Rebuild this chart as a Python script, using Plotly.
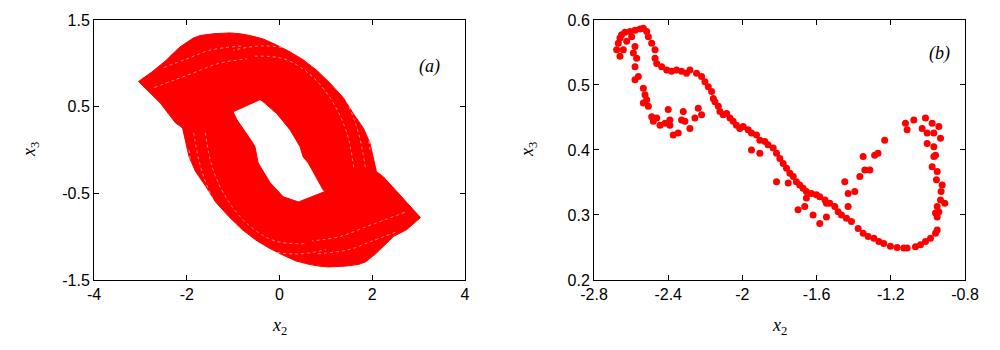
import plotly.graph_objects as go

# panel (a): outline of the attractor band
outer_x = [-3.04, -2.75, -2.43, -2.36, -2.14, -1.86, -1.71, -1.43, -1.07, -0.85, -0.64, -0.35, -0.06, 0.23, 0.51,
           0.80, 1.09, 1.38, 1.59, 1.81, 1.95, 2.09, 2.24, 3.04, 2.74, 2.45, 2.38, 2.09, 1.86, 1.71, 1.43, 1.07,
           0.85, 0.64, 0.35, 0.06, -0.23, -0.51, -0.80, -1.09, -1.38, -1.59, -1.81, -1.95, -2.09, -2.13, -2.24,
           -2.57, -3.04]
outer_y = [0.79, 0.90, 1.04, 1.08, 1.19, 1.29, 1.32, 1.34, 1.35, 1.34, 1.32, 1.28, 1.21, 1.13, 1.04,
           0.92, 0.77, 0.60, 0.42, 0.25, 0.08, -0.25, -0.31, -0.78, -0.92, -1.0, -1.04, -1.19, -1.29, -1.32,
           -1.34, -1.35, -1.34, -1.32, -1.28, -1.21, -1.13, -1.04, -0.92, -0.77, -0.60, -0.42, -0.25, -0.08,
           0.25, 0.27, 0.31, 0.54, 0.79]
hole_x = [-1.0, -0.42, -0.36, -0.06, 0.23, 0.44, 0.51, 0.62, 0.94, 0.98, 0.41, 0.08, -0.2, -0.46, -0.53, -0.6, -0.92, -1.0]
hole_y = [0.44, 0.58, 0.56, 0.42, 0.23, 0.04, -0.08, -0.15, -0.46, -0.48, -0.60, -0.54, -0.38, -0.15, 0.04, 0.10, 0.35, 0.44]

# light streaks inside the band
streaks = [
    ([-1.85, -1.7, -1.4, -0.9, -0.3, 0.4, 1.0], [0.2, -0.2, -0.6, -0.95, -1.15, -1.2, -1.15]),
    ([-1.6, -1.45, -1.15, -0.7, -0.1, 0.6], [0.2, -0.2, -0.55, -0.85, -1.05, -1.08]),
    ([-1.95, -1.85, -1.6, -1.2, -0.6, 0.1], [0.0, -0.35, -0.7, -1.0, -1.2, -1.28]),
    ([1.85, 1.7, 1.4, 0.9, 0.3, -0.4, -1.0], [-0.2, 0.2, 0.6, 0.95, 1.15, 1.2, 1.15]),
    ([1.6, 1.45, 1.15, 0.7, 0.1, -0.6], [-0.2, 0.2, 0.55, 0.85, 1.05, 1.08]),
    ([1.95, 1.85, 1.6, 1.2, 0.6, -0.1], [0.0, 0.35, 0.7, 1.0, 1.2, 1.28]),
    ([-2.7, -2.3, -1.8, -1.3, -0.7], [0.72, 0.8, 0.9, 1.0, 1.05]),
    ([-2.5, -2.0, -1.5, -0.8], [0.95, 1.05, 1.15, 1.2]),
    ([2.7, 2.3, 1.8, 1.3, 0.7], [-0.72, -0.8, -0.9, -1.0, -1.05]),
    ([2.5, 2.0, 1.5, 0.8], [-0.95, -1.05, -1.15, -1.2]),
]

# panel (b): section points
sec_x = [-2.678, -2.669, -2.660, -2.651, -2.633, -2.606, -2.579, -2.552, -2.534, -2.516, -2.507, -2.660, -2.642,
         -2.624, -2.597, -2.579, -2.588, -2.570, -2.489, -2.471, -2.471, -2.462, -2.435, -2.408, -2.382, -2.355,
         -2.328, -2.301, -2.283, -2.247, -2.220, -2.202, -2.184, -2.166, -2.157, -2.148, -2.130, -2.121, -2.103,
         -2.085, -2.067, -2.050, -2.032, -2.014, -1.996, -1.969, -1.951, -1.924, -1.906, -1.879, -1.862, -1.834,
         -1.816, -1.798, -1.780, -1.762, -1.744, -1.726, -1.709, -1.691, -1.673, -1.655, -1.628, -1.601, -1.583,
         -1.555, -1.529, -1.502, -1.484, -1.466, -1.439, -1.412, -1.376, -1.349, -1.322, -1.291, -1.264, -1.238,
         -1.202, -1.166, -1.130, -1.112, -1.067, -1.040, -1.013, -0.986, -0.959, -0.950,
         -0.950, -0.941, -0.932, -0.929, -0.923, -0.954, -0.950, -0.977, -0.968, -0.959, -0.968, -0.932, -0.968,
         -0.941, -0.977, -1.004, -1.004, -1.013, -1.031, -1.076, -1.121, -1.112, -0.909, -0.950, -0.959,
         -1.233, -1.269, -1.287, -1.313, -1.340, -1.367, -1.349, -1.394, -1.430, -1.448, -1.430, -1.547, -1.547,
         -1.583, -1.619, -1.664, -1.700, -1.655, -1.816, -1.951, -1.906, -1.753,
         -2.579, -2.561, -2.579, -2.534, -2.525, -2.516, -2.534, -2.507, -2.489, -2.462, -2.480, -2.444, -2.417,
         -2.391, -2.400, -2.391, -2.373, -2.346, -2.319, -2.328, -2.310, -2.283, -2.256, -2.238, -2.220]
sec_y = [0.554, 0.564, 0.572, 0.577, 0.581, 0.582, 0.584, 0.586, 0.587, 0.582, 0.574, 0.544, 0.554,
         0.567, 0.574, 0.559, 0.549, 0.541, 0.564, 0.554, 0.541, 0.533, 0.528, 0.523, 0.521, 0.523,
         0.521, 0.518, 0.523, 0.518, 0.513, 0.505, 0.497, 0.490, 0.479, 0.474, 0.467, 0.459, 0.454,
         0.456, 0.449, 0.444, 0.438, 0.433, 0.436, 0.431, 0.426, 0.423, 0.415, 0.413, 0.408, 0.403,
         0.395, 0.387, 0.379, 0.372, 0.364, 0.359, 0.351, 0.346, 0.341, 0.336, 0.333, 0.331, 0.328,
         0.323, 0.318, 0.313, 0.305, 0.300, 0.295, 0.290, 0.279, 0.272, 0.267, 0.264, 0.259, 0.256,
         0.252, 0.250, 0.249, 0.249, 0.251, 0.254, 0.259, 0.264, 0.272, 0.277,
         0.297, 0.305, 0.323, 0.336, 0.346, 0.354, 0.367, 0.374, 0.390, 0.392, 0.405, 0.418, 0.426,
         0.436, 0.441, 0.426, 0.410, 0.449, 0.433, 0.446, 0.441, 0.431, 0.318, 0.313, 0.303,
         0.415, 0.395, 0.392, 0.369, 0.369, 0.359, 0.390, 0.336, 0.333, 0.351, 0.313, 0.318, 0.297,
         0.287, 0.300, 0.313, 0.308, 0.326, 0.351, 0.400, 0.395, 0.349,
         0.528, 0.513, 0.508, 0.495, 0.485, 0.477, 0.472, 0.467, 0.451, 0.449, 0.444, 0.438, 0.441,
         0.446, 0.462, 0.438, 0.423, 0.426, 0.459, 0.446, 0.444, 0.433, 0.449, 0.464, 0.454]

xa_ticks = [-4, -2, 0, 2, 4]
ya_ticks = [-1.5, -0.5, 0.5, 1.5]
xb_ticks = [-2.8, -2.4, -2, -1.6, -1.2, -0.8]
yb_ticks = [0.2, 0.3, 0.4, 0.5, 0.6]

red = "#ff0000"
fig = go.Figure()

fig.add_trace(go.Scatter(x=outer_x, y=outer_y, mode="lines", fill="toself", fillcolor=red,
                         line=dict(color=red, width=1), xaxis="x", yaxis="y", hoverinfo="skip"))
for sx, sy in streaks:
    fig.add_trace(go.Scatter(x=sx, y=sy, mode="lines",
                             line=dict(color="rgba(255,255,255,0.6)", width=0.9, dash="dot", shape="spline"),
                             xaxis="x", yaxis="y", hoverinfo="skip"))
fig.add_trace(go.Scatter(x=hole_x, y=hole_y, mode="lines", fill="toself", fillcolor="white",
                         line=dict(color=red, width=1), xaxis="x", yaxis="y", hoverinfo="skip"))

fig.add_trace(go.Scatter(x=sec_x, y=sec_y, mode="markers", marker=dict(color=red, size=7),
                         xaxis="x2", yaxis="y2"))

tickfont = dict(family="Liberation Sans, Arial", size=16, color="black")
axis_common = dict(showgrid=False, zeroline=False, showline=True, linecolor="black", linewidth=1,
                   mirror="allticks", ticks="inside", ticklen=5, tickcolor="black", tickfont=tickfont,
                   automargin=False)


def labels(vals):
    return [("%g" % v) for v in vals]


# page body adds ~8px offset, domains compensate for it
fig.update_layout(
    width=1000, height=350, margin=dict(l=0, r=0, t=0, b=0),
    paper_bgcolor="white", plot_bgcolor="white", showlegend=False,
    xaxis=dict(domain=[0.086, 0.457], range=[-4, 4], tickvals=xa_ticks, ticktext=labels(xa_ticks),
               anchor="y", **axis_common),
    yaxis=dict(domain=[0.223, 0.966], range=[-1.5, 1.5], tickvals=ya_ticks, ticktext=labels(ya_ticks),
               anchor="x", **axis_common),
    xaxis2=dict(domain=[0.586, 0.957], range=[-2.8, -0.8], tickvals=xb_ticks, ticktext=labels(xb_ticks),
                anchor="y2", **axis_common),
    yaxis2=dict(domain=[0.223, 0.966], range=[0.2, 0.6], tickvals=yb_ticks, ticktext=labels(yb_ticks),
                anchor="x2", **axis_common),
)

serif = dict(family="Liberation Serif, DejaVu Serif", size=18, color="black")
ann = dict(showarrow=False, font=serif, xanchor="center", yanchor="middle")
fig.add_annotation(text="<i>(a)</i>", x=3.24, y=0.96, xref="x", yref="y", **ann)
fig.add_annotation(text="<i>(b)</i>", x=-0.94, y=0.549, xref="x2", yref="y2", **ann)
fig.add_annotation(text="<i>x</i><sub>2</sub>", x=0.2715, y=0.089, xref="paper", yref="paper", **ann)
fig.add_annotation(text="<i>x</i><sub>2</sub>", x=0.7715, y=0.089, xref="paper", yref="paper", **ann)
fig.add_annotation(text="<i>x</i><sub>3</sub>", x=0.022, y=0.594, xref="paper", yref="paper",
                   textangle=-90, **ann)
fig.add_annotation(text="<i>x</i><sub>3</sub>", x=0.520, y=0.594, xref="paper", yref="paper",
                   textangle=-90, **ann)

fig.write_html("out.html")
